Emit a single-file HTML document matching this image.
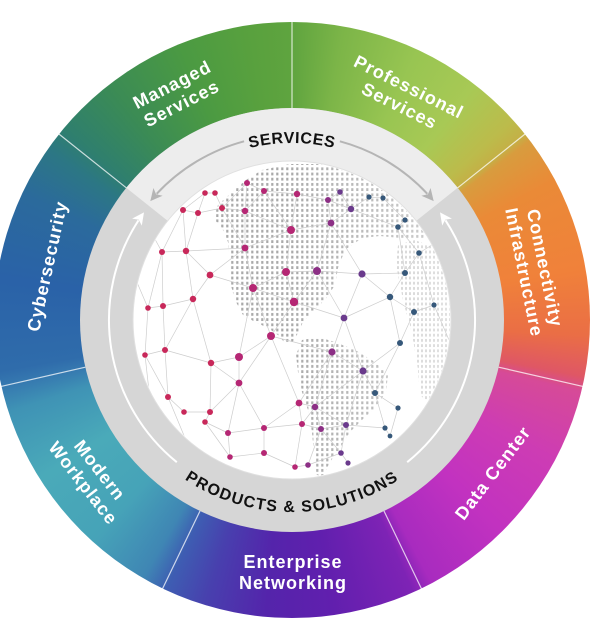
<!DOCTYPE html>
<html><head><meta charset="utf-8">
<style>
html,body{margin:0;padding:0;background:#fff;}
#wrap{position:relative;width:600px;height:626px;overflow:hidden;background:#fff;}
#ring{position:absolute;left:-6px;top:22px;width:596px;height:596px;border-radius:50%;
background:conic-gradient(from 0deg at 50% 50%,
#5fa43f 0deg,#7cb548 10deg,#98c552 25deg,#a8c955 38deg,#bcbb4b 48deg,#c4b046 51.4deg,
#d89c3e 53deg,#ea8a37 62deg,#f0813a 80deg,#ea6e45 93deg,#df5765 101deg,
#d64a98 104deg,#cd3cb4 118deg,#c232c0 135deg,#a82bbf 152deg,
#7e23b5 156deg,#611fae 172deg,#5424ab 185deg,#4840ae 197deg,#3e5db2 205deg,
#3f86b4 210deg,#46a3b8 222deg,#4aaab9 238deg,#3f93b5 252deg,#3679b0 257deg,
#2f6cab 260deg,#2a62a8 278deg,#2b6a9c 295deg,#2c7784 305deg,#2f7f6e 310deg,
#3b8b55 322deg,#4b9a42 338deg,#59a13e 352deg,#5fa43f 360deg);}
svg{position:absolute;left:0;top:0;}
.lbl{font-family:"Liberation Sans",Arial,sans-serif;font-weight:bold;font-size:18px;fill:#fff;letter-spacing:1px;}
.arc{font-family:"Liberation Sans",Arial,sans-serif;font-weight:bold;font-size:16px;fill:#111;}
</style></head>
<body><div id="wrap"><div id="ring"></div>
<svg width="600" height="626" viewBox="0 0 600 626" xmlns="http://www.w3.org/2000/svg">
<defs>
<pattern id="dk" width="5" height="5.2" patternUnits="userSpaceOnUse"><rect x="1.2" y="1" width="2.2" height="2.8" fill="#a9a9a9"/></pattern>
<pattern id="lt" width="4" height="5.2" patternUnits="userSpaceOnUse"><rect x="1" y="1" width="2" height="2.8" fill="#c8c8c8"/></pattern>
<linearGradient id="fade" x1="290" y1="0" x2="450" y2="0" gradientUnits="userSpaceOnUse">
<stop offset="0" stop-color="#fff" stop-opacity="0"/>
<stop offset="1" stop-color="#fff" stop-opacity="0.45"/>
</linearGradient>
<clipPath id="gc"><circle cx="292" cy="320" r="158"/></clipPath>
<path id="tp1" d="M138.7,231.5 A177,177 0 0 1 445.3,231.5"/>
<path id="tp2" d="M125.7,416 A192,192 0 0 0 458.3,416"/>
</defs>

<!-- gray ring -->
<circle cx="292" cy="320" r="212" fill="#d6d6d6"/>
<path d="M292,320 L126.3,187.8 A212,212 0 0 1 457.7,187.8 Z" fill="#ededed"/>

<!-- dividers -->
<g stroke="#ffffff" stroke-opacity="0.75" stroke-width="1.2">
<line x1="292" y1="108" x2="292" y2="20"/>
<line x1="126.3" y1="187.8" x2="57.5" y2="132.9"/>
<line x1="457.7" y1="187.8" x2="526.5" y2="132.9"/>
<line x1="85.3" y1="367.2" x2="-0.5" y2="386.8"/>
<line x1="498.7" y1="367.2" x2="584.5" y2="386.8"/>
<line x1="200" y1="511" x2="161.8" y2="590.3"/>
<line x1="384" y1="511" x2="422.2" y2="590.3"/>
</g>

<!-- globe -->
<circle cx="292" cy="320" r="159" fill="#ffffff" stroke="#e0e0e0" stroke-width="1"/>
<g clip-path="url(#gc)">
<polygon fill="url(#dk)" points="262,170 290,164 320,164 350,170 380,182 405,196 425,212 432,232 420,240 400,238 380,236 362,238 345,250 338,268 335,285 325,300 312,312 303,322 298,333 292,343 285,343 278,335 268,328 255,322 243,315 235,300 230,282 229,262 228,242 222,228 213,218 218,205 232,192 246,180"/>
<polygon fill="url(#dk)" points="302,340 318,337 335,342 355,350 375,362 388,375 386,392 375,408 362,420 350,432 340,448 330,462 322,478 316,474 314,455 312,432 308,410 302,392 298,372 296,355"/>
<polygon fill="url(#lt)" points="398,245 415,240 435,248 447,270 452,300 451,330 446,360 438,385 428,402 420,395 418,370 414,345 410,325 404,305 400,285 396,265"/>
<rect x="130" y="160" width="330" height="320" fill="url(#fade)"/>
<path fill="none" stroke="#cdcdcd" stroke-width="0.7" d="M183 210L205 193M183 210L198 213M205 193L215 193M215 193L222 208M198 213L222 208M198 213L205 193M222 208L247 183M247 183L264 191M264 191L245 211M247 183L245 211M222 208L245 211M245 211L291 230M264 191L291 230M264 191L297 194M297 194L291 230M297 194L328 200M328 200L340 192M340 192L351 209M328 200L351 209M351 209L331 223M331 223L328 200M291 230L331 223M331 223L317 271M351 209L369 197M369 197L383 198M383 198L405 220M405 220L398 227M398 227L419 253M351 209L398 227M183 210L162 252M183 210L186 251M198 213L186 251M186 251L162 252M222 208L245 248M245 211L245 248M245 248L186 251M245 248L291 230M245 248L210 275M186 251L210 275M162 252L163 306M162 252L148 308M186 251L193 299M210 275L193 299M193 299L163 306M163 306L148 308M210 275L253 288M245 248L253 288M291 230L286 272M286 272L253 288M286 272L317 271M286 272L294 302M253 288L294 302M317 271L294 302M317 271L362 274M331 223L362 274M362 274L405 273M405 273L419 253M398 227L405 273M362 274L390 297M390 297L405 273M390 297L414 312M414 312L434 305M434 305L419 253M362 274L344 318M294 302L344 318M317 271L344 318M390 297L344 318M253 288L271 336M294 302L271 336M253 288L239 357M193 299L211 363M211 363L239 357M239 357L271 336M193 299L165 350M163 306L165 350M148 308L145 355M165 350L145 355M165 350L211 363M271 336L332 352M344 318L332 352M332 352L363 371M344 318L363 371M363 371L400 343M400 343L414 312M400 343L390 297M239 357L239 383M271 336L239 383M211 363L239 383M271 336L299 403M332 352L299 403M332 352L315 407M299 403L315 407M315 407L363 371M363 371L375 393M375 393L400 343M375 393L398 408M211 363L210 412M239 383L210 412M165 350L168 397M168 397L184 412M184 412L210 412M145 355L168 397M210 412L205 422M205 422L228 433M239 383L228 433M239 383L264 428M299 403L264 428M228 433L264 428M299 403L302 424M315 407L302 424M315 407L321 429M302 424L321 429M321 429L346 425M315 407L346 425M363 371L346 425M346 425L385 428M375 393L385 428M385 428L390 436M398 408L390 436M264 428L264 453M228 433L230 457M205 422L230 457M230 457L264 453M264 453L295 467M302 424L295 467M295 467L308 465M321 429L308 465M308 465L341 453M346 425L341 453M341 453L348 463M321 429L341 453M264 428L302 424M148 308L136 280M162 252L150 230M183 210L175 190M145 355L150 400M168 397L190 450M434 305L449 340M419 253L440 240"/>
<g fill="#c8285a">
<circle cx="183" cy="210" r="3"/><circle cx="205" cy="193" r="2.8"/><circle cx="215" cy="193" r="2.8"/><circle cx="198" cy="213" r="3"/><circle cx="222" cy="208" r="3"/><circle cx="162" cy="252" r="3"/><circle cx="186" cy="251" r="3.2"/><circle cx="210" cy="275" r="3.4"/><circle cx="193" cy="299" r="3.2"/><circle cx="163" cy="306" r="3"/><circle cx="148" cy="308" r="2.8"/><circle cx="211" cy="363" r="3.2"/><circle cx="165" cy="350" r="3"/><circle cx="145" cy="355" r="2.8"/><circle cx="210" cy="412" r="3"/><circle cx="168" cy="397" r="3"/><circle cx="184" cy="412" r="2.8"/><circle cx="205" cy="422" r="2.8"/>
</g>
<g fill="#b52774">
<circle cx="247" cy="183" r="3"/><circle cx="264" cy="191" r="3"/><circle cx="245" cy="211" r="3.2"/><circle cx="297" cy="194" r="3.2"/><circle cx="291" cy="230" r="4"/><circle cx="245" cy="248" r="3.4"/><circle cx="286" cy="272" r="4"/><circle cx="253" cy="288" r="4"/><circle cx="294" cy="302" r="4.2"/><circle cx="271" cy="336" r="4"/><circle cx="239" cy="357" r="4"/><circle cx="239" cy="383" r="3.4"/><circle cx="299" cy="403" r="3.4"/><circle cx="228" cy="433" r="3"/><circle cx="264" cy="428" r="3"/><circle cx="302" cy="424" r="3"/><circle cx="264" cy="453" r="3"/><circle cx="295" cy="467" r="2.8"/><circle cx="230" cy="457" r="2.8"/>
</g>
<g fill="#8c2f85">
<circle cx="317" cy="271" r="4"/><circle cx="328" cy="200" r="3"/><circle cx="331" cy="223" r="3.4"/><circle cx="332" cy="352" r="3.6"/><circle cx="315" cy="407" r="3.2"/><circle cx="321" cy="429" r="3"/><circle cx="308" cy="465" r="2.8"/>
</g>
<g fill="#6a3a8c">
<circle cx="351" cy="209" r="3.2"/><circle cx="340" cy="192" r="2.8"/><circle cx="362" cy="274" r="3.6"/><circle cx="344" cy="318" r="3.4"/><circle cx="363" cy="371" r="3.6"/><circle cx="346" cy="425" r="3"/><circle cx="341" cy="453" r="2.8"/><circle cx="348" cy="463" r="2.6"/>
</g>
<g fill="#36587a">
<circle cx="369" cy="197" r="2.6"/><circle cx="383" cy="198" r="2.6"/><circle cx="405" cy="220" r="2.6"/><circle cx="398" cy="227" r="2.8"/><circle cx="419" cy="253" r="2.8"/><circle cx="405" cy="273" r="3"/><circle cx="390" cy="297" r="3.2"/><circle cx="414" cy="312" r="3"/><circle cx="434" cy="305" r="2.6"/><circle cx="400" cy="343" r="3"/><circle cx="375" cy="393" r="3"/><circle cx="398" cy="408" r="2.6"/><circle cx="385" cy="428" r="2.6"/><circle cx="390" cy="436" r="2.4"/>
</g>
</g>

<!-- arcs and arrows -->
<path d="M244.1,141.3 A185,185 0 0 0 156.7,193.8" fill="none" stroke="#b5b5b5" stroke-width="2"/>
<path d="M339.9,141.3 A185,185 0 0 1 427.3,193.8" fill="none" stroke="#b5b5b5" stroke-width="2"/>
<polygon points="0,0 -12,-6 -9,0 -12,6" fill="#b5b5b5" transform="translate(150.3,201.1) rotate(130)"/>
<polygon points="0,0 -12,-6 -9,0 -12,6" fill="#b5b5b5" transform="translate(433.7,201.1) rotate(50)"/>
<path d="M176.8,462.2 A183,183 0 0 1 138.5,220.3" fill="none" stroke="#ffffff" stroke-width="2"/>
<path d="M407.2,462.2 A183,183 0 0 0 445.5,220.3" fill="none" stroke="#ffffff" stroke-width="2"/>
<polygon points="0,0 -12,-6 -9,0 -12,6" fill="#ffffff" transform="translate(144,212.4) rotate(-54)"/>
<polygon points="0,0 -12,-6 -9,0 -12,6" fill="#ffffff" transform="translate(440,212.4) rotate(-126)"/>

<!-- arc texts -->
<text class="arc" letter-spacing="0.6"><textPath href="#tp1" startOffset="50%" text-anchor="middle">SERVICES</textPath></text>
<text class="arc" letter-spacing="1.2"><textPath href="#tp2" startOffset="50%" text-anchor="middle">PRODUCTS &amp; SOLUTIONS</textPath></text>

<!-- ring labels -->
<text class="lbl" text-anchor="middle" transform="translate(176.7,93.7) rotate(-27)"><tspan x="0" y="-4">Managed</tspan><tspan x="0" y="17">Services</tspan></text>
<text class="lbl" text-anchor="middle" transform="translate(404.4,96) rotate(26.5)"><tspan x="0" y="-4">Professional</tspan><tspan x="0" y="17">Services</tspan></text>
<text class="lbl" text-anchor="middle" transform="translate(46.9,266.1) rotate(-77.6)"><tspan x="0" y="6.5">Cybersecurity</tspan></text>
<text class="lbl" text-anchor="middle" transform="translate(534.9,270.1) rotate(78.4)"><tspan x="0" y="-4">Connectivity</tspan><tspan x="0" y="17">Infrastructure</tspan></text>
<text class="lbl" text-anchor="middle" transform="translate(492.5,472.7) rotate(-52.7)"><tspan x="0" y="6.5">Data Center</tspan></text>
<text class="lbl" text-anchor="middle" transform="translate(293,572) rotate(0)"><tspan x="0" y="-4">Enterprise</tspan><tspan x="0" y="17">Networking</tspan></text>
<text class="lbl" text-anchor="middle" transform="translate(91.8,476.4) rotate(52)"><tspan x="0" y="-4">Modern</tspan><tspan x="0" y="17">Workplace</tspan></text>
</svg>
</div></body></html>
